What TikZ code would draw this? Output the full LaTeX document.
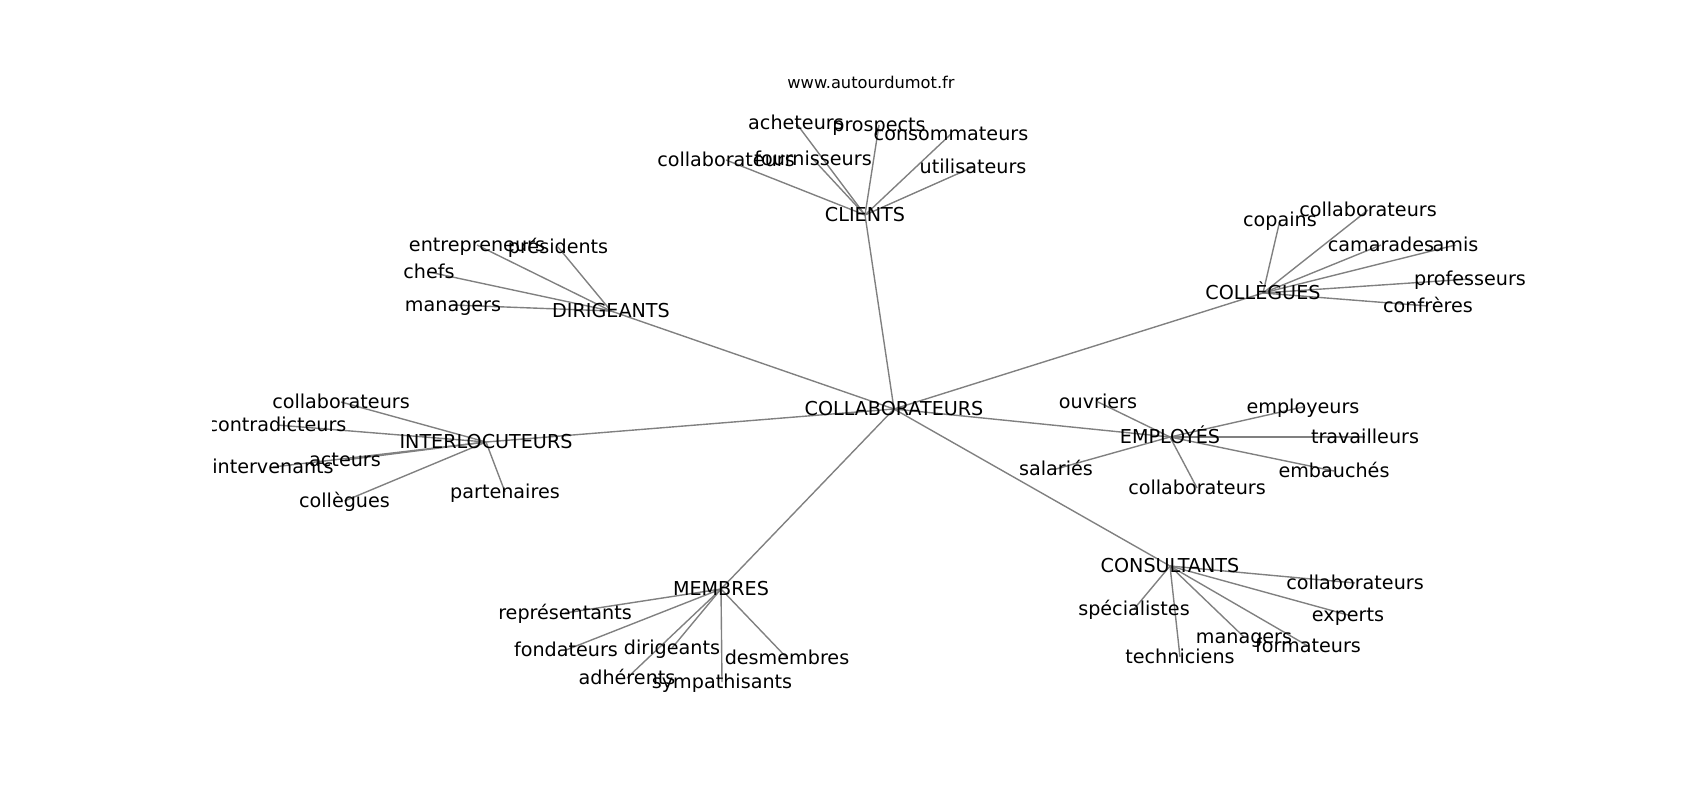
\documentclass[tikz,border=0pt]{standalone}
\usepackage{fontspec}
\setmainfont{DejaVu Sans}
\pgfdeclarelayer{bg}
\pgfsetlayers{bg,main}
\tikzset{
  lab/.style={font=\fontsize{13.8}{16}\selectfont, inner sep=0pt, text height=11.6pt, text depth=1.9pt, anchor=center},
  ttl/.style={font=\fontsize{11.7}{14}\selectfont, inner sep=0pt, text height=9.6pt, text depth=2.1pt, anchor=center},
  edge/.style={draw=gray, line width=1pt}
}
\begin{document}
\begin{tikzpicture}[x=0.72pt,y=-0.72pt]
\useasboundingbox (0,0) rectangle (1700,800);
\node[ttl] (title) at (871,83) {www.autourdumot.fr};
\begin{scope}
\clip (212.5,96) rectangle (1530,712);
% hubs
\node[lab] (c0) at (894,409) {COLLABORATEURS};
\node[lab] (cli) at (865,215) {CLIENTS};
\node[lab] (dir) at (611,311) {DIRIGEANTS};
\node[lab] (col) at (1263,293) {COLLÈGUES};
\node[lab] (int) at (486,442) {INTERLOCUTEURS};
\node[lab] (emp) at (1170,437) {EMPLOYÉS};
\node[lab] (con) at (1170,566) {CONSULTANTS};
\node[lab] (mem) at (721,589) {MEMBRES};
% CLIENTS
\node[lab] (cli1) at (796,123) {acheteurs};
\node[lab] (cli2) at (879,125) {prospects};
\node[lab] (cli3) at (951,134) {consommateurs};
\node[lab] (cli4) at (726,160) {collaborateurs};
\node[lab] (cli5) at (813,159) {fournisseurs};
\node[lab] (cli6) at (973,167) {utilisateurs};
% DIRIGEANTS
\node[lab] (dir1) at (477,245) {entrepreneurs};
\node[lab] (dir2) at (558,247) {présidents};
\node[lab] (dir3) at (429,272) {chefs};
\node[lab] (dir4) at (453,305) {managers};
% COLLEGUES
\node[lab] (col1) at (1280,220) {copains};
\node[lab] (col2) at (1368,210) {collaborateurs};
\node[lab] (col3) at (1381,245) {camarades};
\node[lab] (col4) at (1455.5,245) {amis};
\node[lab] (col5) at (1470,279) {professeurs};
\node[lab] (col6) at (1428,306) {confrères};
% INTERLOCUTEURS
\node[lab] (int1) at (341,402) {collaborateurs};
\node[lab] (int2) at (277,425) {contradicteurs};
\node[lab] (int3) at (273,467) {intervenants};
\node[lab] (int4) at (345,460) {acteurs};
\node[lab] (int5) at (344.5,501) {collègues};
\node[lab] (int6) at (505,492) {partenaires};
% EMPLOYES
\node[lab] (emp1) at (1098,402) {ouvriers};
\node[lab] (emp2) at (1303,407) {employeurs};
\node[lab] (emp3) at (1365,437) {travailleurs};
\node[lab] (emp4) at (1056,469) {salariés};
\node[lab] (emp5) at (1334,471) {embauchés};
\node[lab] (emp6) at (1197,488) {collaborateurs};
% MEMBRES
\node[lab] (mem1) at (565,613) {représentants};
\node[lab] (mem2) at (566,650) {fondateurs};
\node[lab] (mem3) at (672,648) {dirigeants};
\node[lab] (mem4) at (787,658) {desmembres};
\node[lab] (mem5) at (627,678) {adhérents};
\node[lab] (mem6) at (722,682) {sympathisants};
% CONSULTANTS
\node[lab] (con1) at (1355,583) {collaborateurs};
\node[lab] (con2) at (1134,609) {spécialistes};
\node[lab] (con3) at (1348,615) {experts};
\node[lab] (con4) at (1244,637) {managers};
\node[lab] (con5) at (1308,646) {formateurs};
\node[lab] (con6) at (1180,657) {techniciens};
\end{scope}
\begin{pgfonlayer}{bg}
\foreach \h in {cli,dir,col,int,emp,con,mem}
  \draw[edge] (c0.center) -- (\h.center);
\foreach \h/\l in {cli/cli1,cli/cli2,cli/cli3,cli/cli4,cli/cli5,cli/cli6,
  dir/dir1,dir/dir2,dir/dir3,dir/dir4,
  col/col1,col/col2,col/col3,col/col4,col/col5,col/col6,
  int/int1,int/int2,int/int3,int/int4,int/int5,int/int6,
  emp/emp1,emp/emp2,emp/emp3,emp/emp4,emp/emp5,emp/emp6,
  mem/mem1,mem/mem2,mem/mem3,mem/mem4,mem/mem5,mem/mem6,
  con/con1,con/con2,con/con3,con/con4,con/con5,con/con6}
  \draw[edge] (\h.center) -- (\l.center);
\end{pgfonlayer}
\end{tikzpicture}
\end{document}
